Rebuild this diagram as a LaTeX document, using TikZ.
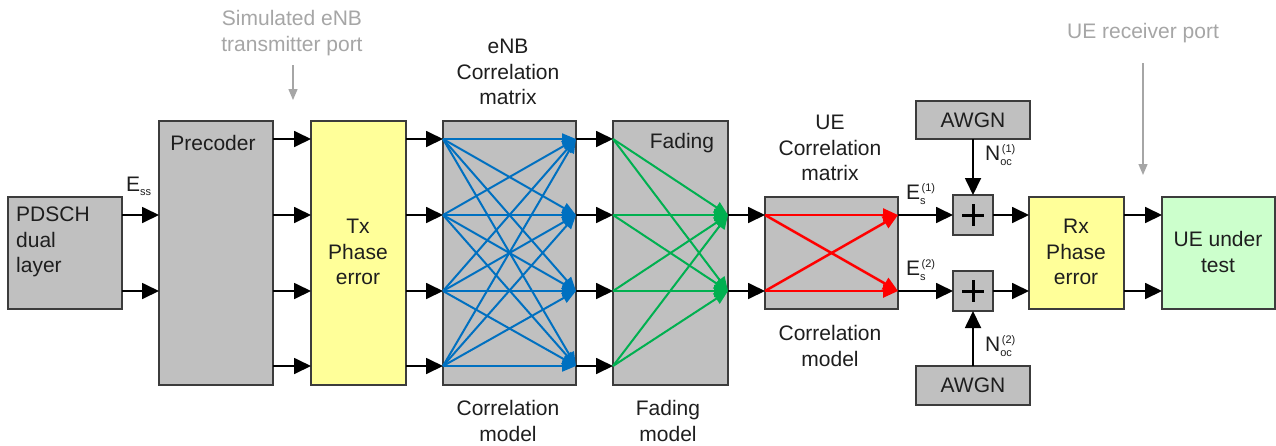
\documentclass[tikz,border=0pt]{standalone}
\usepackage{fontspec}
\setmainfont{Liberation Sans}
\usetikzlibrary{arrows.meta,calc}
\definecolor{boxgray}{HTML}{C0C0C0}
\definecolor{boxedge}{HTML}{3C3C3C}
\definecolor{yel}{HTML}{FFFF99}
\definecolor{grn}{HTML}{CCFFCC}
\definecolor{txtc}{HTML}{1E1E1E}
\definecolor{lblgray}{HTML}{A6A6A6}
\definecolor{bluel}{HTML}{0070C0}
\definecolor{greenl}{HTML}{00B050}
\definecolor{redl}{HTML}{FF0000}
\newcommand{\mysub}[1]{{\fontsize{11}{11}\selectfont\raisebox{-4pt}{#1}}}
\newcommand{\mysubsup}[2]{{\fontsize{11}{11}\selectfont\rlap{\raisebox{-5pt}{#1}}\hspace{1.5pt}\raisebox{8pt}{#2}}}
\begin{document}
\begin{tikzpicture}[x=1pt,y=-1pt,
  box/.style={draw=boxedge, line width=1.5pt, fill=boxgray, inner sep=0pt, outer sep=0pt},
  txt/.style={text=txtc, font=\fontsize{21}{25.5}\selectfont, align=center, inner sep=0pt},
  lbl/.style={text=lblgray, font=\fontsize{21}{26}\selectfont, align=center, inner sep=0pt},
  arr/.style={draw=black, line width=1.8pt, -{Triangle[length=17pt,width=16pt]}},
  barr/.style={draw=bluel, line width=2pt, -{Triangle[length=14pt,width=11pt]}},
  garr/.style={draw=greenl, line width=2pt, -{Triangle[length=14pt,width=12pt]}},
  rarr/.style={draw=redl, line width=2.5pt, -{Triangle[length=15pt,width=13pt]}},
  grarr/.style={draw=lblgray, line width=1.3pt, -{Triangle[length=11pt,width=9pt]}},
]
\useasboundingbox (0,0) rectangle (1276,445);
\fill[white] (0,0) rectangle (1276,445);
% row coordinates
\coordinate (r1) at (0,139);
\coordinate (r2) at (0,215);
\coordinate (r3) at (0,291);
\coordinate (r4) at (0,366);

% boxes
\node[box, minimum width=114pt, minimum height=112pt] (pdsch) at (65,253) {};
\node[box, minimum width=114pt, minimum height=264pt] (prec) at (216,253) {};
\node[box, fill=yel, minimum width=95pt, minimum height=264pt] (tx) at (358.5,253) {};
\node[box, minimum width=133pt, minimum height=264pt] (enb) at (509.5,253) {};
\node[box, minimum width=115pt, minimum height=264pt] (fad) at (670.5,253) {};
\node[box, minimum width=133pt, minimum height=112pt] (uec) at (831.5,253) {};
\node[box, minimum width=40pt, minimum height=40pt] (add1) at (973,215) {};
\node[box, minimum width=40pt, minimum height=40pt] (add2) at (973,291) {};
\node[box, minimum width=114pt, minimum height=38pt] (awgn1) at (973,120) {};
\node[box, minimum width=114pt, minimum height=39pt] (awgn2) at (973,385.5) {};
\node[box, fill=yel, minimum width=95pt, minimum height=112pt] (rx) at (1076.5,253) {};
\node[box, fill=grn, minimum width=113pt, minimum height=112pt] (ue) at (1218.5,253) {};

% plus signs
\foreach \a in {add1,add2}{
  \draw[black, line width=3pt] ($(\a.center)+(-11,0)$) -- ($(\a.center)+(11,0)$);
  \draw[black, line width=3pt] ($(\a.center)+(0,-11)$) -- ($(\a.center)+(0,11)$);
}

% box texts
\node[txt, align=left, anchor=west] (tpdsch) at (16,242) {PDSCH\\dual\\layer};
\node[txt] (tprec) at (213,143) {Precoder};
\node[txt] (ttx) at (358,252) {Tx\\Phase\\error};
\node[txt] (tfad) at (682,143) {Fading};
\node[txt] (tawgn1) at (973,120) {AWGN};
\node[txt] (tawgn2) at (973,385) {AWGN};
\node[txt] (trx) at (1076,252) {Rx\\Phase\\error};
\node[txt] (tue) at (1218,252) {UE under\\test};

% outside texts
\node[txt] (enbm) at (508,72) {eNB\\Correlation\\matrix};
\node[txt] (enbcm) at (508,421) {Correlation\\model};
\node[txt] (fadm) at (668,421) {Fading\\model};
\node[txt] (uem) at (830,148) {UE\\Correlation\\matrix};
\node[txt] (uecm) at (830,346) {Correlation\\model};
\node[lbl] (simport) at (292,33) {Simulated eNB\\transmitter port};
\node[lbl] (ueport) at (1143,33) {UE receiver port};
\coordinate (simtip) at (293,100);
\coordinate (uetip) at (1143,175);
\draw[grarr] (293,65) -- (simtip);
\draw[grarr] (1143,63) -- (uetip);

% signal labels
\node[txt, anchor=west] (ess) at (126,186) {E\mysub{ss}};
\node[txt, anchor=west] (es1) at (906,194) {E\mysubsup{s}{(1)}};
\node[txt, anchor=west] (es2) at (906,270) {E\mysubsup{s}{(2)}};
\node[txt, anchor=west] (noc1) at (985,155) {N\mysubsup{oc}{(1)}};
\node[txt, anchor=west] (noc2) at (985,346) {N\mysubsup{oc}{(2)}};

% black connectors
\foreach \r in {r2,r3}{
  \draw[arr] (pdsch.east |- \r) -- (prec.west |- \r);
  \draw[arr] (fad.east |- \r) -- (uec.west |- \r);
  \draw[arr] (rx.east |- \r) -- (ue.west |- \r);
}
\foreach \r in {r1,r2,r3,r4}{
  \draw[arr] (prec.east |- \r) -- (tx.west |- \r);
  \draw[arr] (tx.east |- \r) -- (enb.west |- \r);
  \draw[arr] (enb.east |- \r) -- (fad.west |- \r);
}
\draw[arr] (uec.east |- r2) -- (add1.west);
\draw[arr] (uec.east |- r3) -- (add2.west);
\draw[arr] (add1.east) -- (rx.west |- add1.east);
\draw[arr] (add2.east) -- (rx.west |- add2.east);
\draw[arr] (awgn1.south) -- (add1.north);
\draw[arr] (awgn2.north) -- (add2.south);

% blue correlation lines
\foreach \a in {r1,r2,r3,r4}{
  \foreach \b in {r1,r2,r3,r4}{
    \draw[barr] (enb.west |- \a) -- (enb.east |- \b);
  }
}
% green fading lines
\foreach \a in {r1,r2,r3,r4}{
  \foreach \b in {r2,r3}{
    \draw[garr] (fad.west |- \a) -- (fad.east |- \b);
  }
}
% red UE correlation lines
\foreach \a in {r2,r3}{
  \foreach \b in {r2,r3}{
    \draw[rarr] (uec.west |- \a) -- (uec.east |- \b);
  }
}
\end{tikzpicture}
\end{document}
